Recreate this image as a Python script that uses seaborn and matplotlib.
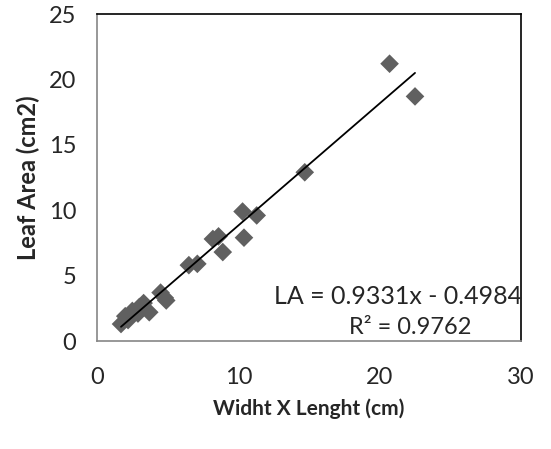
import numpy as np
import matplotlib
matplotlib.use("Agg")
import matplotlib.pyplot as plt
import seaborn as sns

# leaf measurements: width x length (cm) vs leaf area (cm2)
wl = [20.7, 22.5, 14.7, 10.3, 11.3, 10.4, 8.2, 8.6, 8.9, 6.5, 7.1,
      4.5, 4.8, 4.9, 3.0, 3.3, 3.7, 2.9, 2.5, 2.0, 1.7, 2.2]
area = [21.2, 18.7, 12.9, 9.9, 9.6, 7.9, 7.8, 8.0, 6.8, 5.8, 5.9,
        3.7, 3.3, 3.1, 2.6, 2.9, 2.2, 2.1, 2.3, 1.9, 1.3, 1.6]

slope = 0.9331
intercept = -0.4984
r2 = 0.9762

sns.set_style("white")
plt.rcParams['font.family'] = ['Lato', 'DejaVu Sans']

fig = plt.figure(figsize=(5.51, 4.49), dpi=100)
ax = fig.add_axes([0.176, 0.2405, 0.7696, 0.7283])

sns.scatterplot(x=wl, y=area, marker='D', s=90, color='#606060',
                edgecolor='none', ax=ax, zorder=2)

xs = np.array([min(wl), max(wl)])
ax.plot(xs, slope * xs + intercept, color='black', lw=1.3, zorder=3)

ax.set_xlim(0, 30)
ax.set_ylim(0, 25)
ax.set_xticks([0, 10, 20, 30])
ax.set_yticks([0, 5, 10, 15, 20, 25])
ax.tick_params(length=0, labelsize=17)
ax.tick_params(axis='x', pad=19)
ax.tick_params(axis='y', pad=15)

for side in ['left', 'bottom']:
    ax.spines[side].set_color('#868686')
for side in ['top', 'right']:
    ax.spines[side].set_color('black')
for s in ax.spines.values():
    s.set_linewidth(1.2)

ax.set_xlabel('Widht X Lenght (cm)', fontsize=15, fontweight='bold', labelpad=7)
ax.set_ylabel('Leaf Area (cm2)', fontsize=17, fontweight='bold', labelpad=6)

ax.text(0.709, 0.137, f'LA = {slope}x - {abs(intercept)}', transform=ax.transAxes,
        ha='center', va='center', fontsize=18)
ax.text(0.738, 0.042, f'R² = {r2}', transform=ax.transAxes,
        ha='center', va='center', fontsize=17)

fig.savefig('out.png', dpi=100)
